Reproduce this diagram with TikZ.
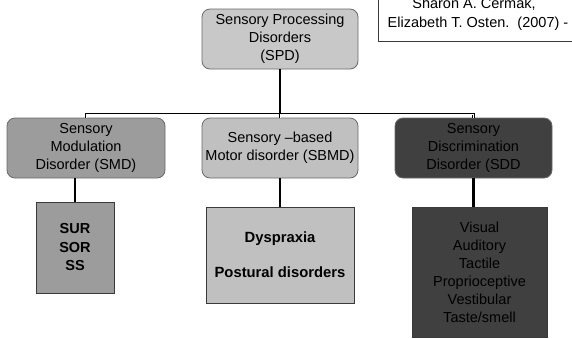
\documentclass[tikz,border=0pt]{standalone}
\usepackage{fontspec}
\setmainfont{Liberation Sans}
\definecolor{fillA}{HTML}{C8C8C8}
\definecolor{fillB}{HTML}{C0C0C0}
\definecolor{fillC}{HTML}{9C9C9C}
\definecolor{fillD}{HTML}{404040}
\definecolor{rimgray}{HTML}{6A6A6A}
\definecolor{rimdark}{HTML}{3A3A3A}
\tikzset{
  txt/.style={font=\fontsize{14.5}{18}\selectfont, align=center},
  rbox/.style={txt, draw=rimgray, line width=0.8pt, rounded corners=8pt, inner sep=0pt},
  sbox/.style={txt, draw=rimdark, line width=0.8pt, inner sep=0pt},
  darkbox/.style={fill=fillD, text=black},
  bus/.style={draw=black, line width=0.7pt, double=white, double distance=1pt},
  link/.style={draw=black, line width=2.2pt},
}
\begin{document}
\begin{tikzpicture}[x=1pt,y=-1pt]
\useasboundingbox (0,0) rectangle (572,338);
\clip (0,0) rectangle (572,338);
% reference box top right
\draw[draw=rimdark, line width=0.8pt, fill=white] (378,-10) rectangle (590,41);
\node[txt, anchor=base] (ref1) at (474,8) {Sharon A. Cermak,};
\node[txt, anchor=base] (ref2) at (478,27) {Elizabeth T. Osten.\ \ (2007) -};
% main boxes
\node[rbox, fill=fillA, minimum width=156pt, minimum height=60pt] (spd) at (280,39)
  {Sensory Processing\\Disorders\\(SPD)};
\node[rbox, fill=fillC, minimum width=158pt, minimum height=60pt] (smd) at (86,148)
  {Sensory\\Modulation\\Disorder (SMD)};
\node[rbox, fill=fillB, minimum width=156pt, minimum height=60pt] (sbmd) at (280,148)
  {Sensory \textendash based\\Motor disorder (SBMD)};
\node[rbox, darkbox, minimum width=157pt, minimum height=60pt] (sdd) at (473.5,148)
  {Sensory\\Discrimination\\Disorder (SDD};
% lower boxes
\node[sbox, fill=fillC, font=\fontsize{14.5}{18.5}\selectfont\bfseries, minimum width=78pt, minimum height=91pt] (b1) at (75,247.5)
  {SUR\\SOR\\SS};
\node[sbox, fill=fillB, font=\fontsize{14.8}{17.5}\selectfont\bfseries, minimum width=148pt, minimum height=96pt] (b2) at (280,255)
  {Dyspraxia\\[17.5pt]Postural disorders};
\node[sbox, darkbox, minimum width=135pt, minimum height=130pt] (b3) at (479.5,272)
  {Visual\\Auditory\\Tactile\\Proprioceptive\\Vestibular\\Taste/smell};
% connectors
\coordinate (busL) at (86,114);
\coordinate (busR) at (473.5,114);
\coordinate (busM) at (280,114);
\draw[link] (spd.south) -- (busM);
\draw[bus] (smd.north) -- (busL) -- (busR) -- (sdd.north);
\draw[bus] (busM) -- (sbmd.north);
\draw[link] (b1.north |- smd.south) -- (b1.north);
\draw[link] (sbmd.south) -- (b2.north);
\draw[link] (sdd.south) -- (sdd.south |- b3.north);
\end{tikzpicture}
\end{document}
